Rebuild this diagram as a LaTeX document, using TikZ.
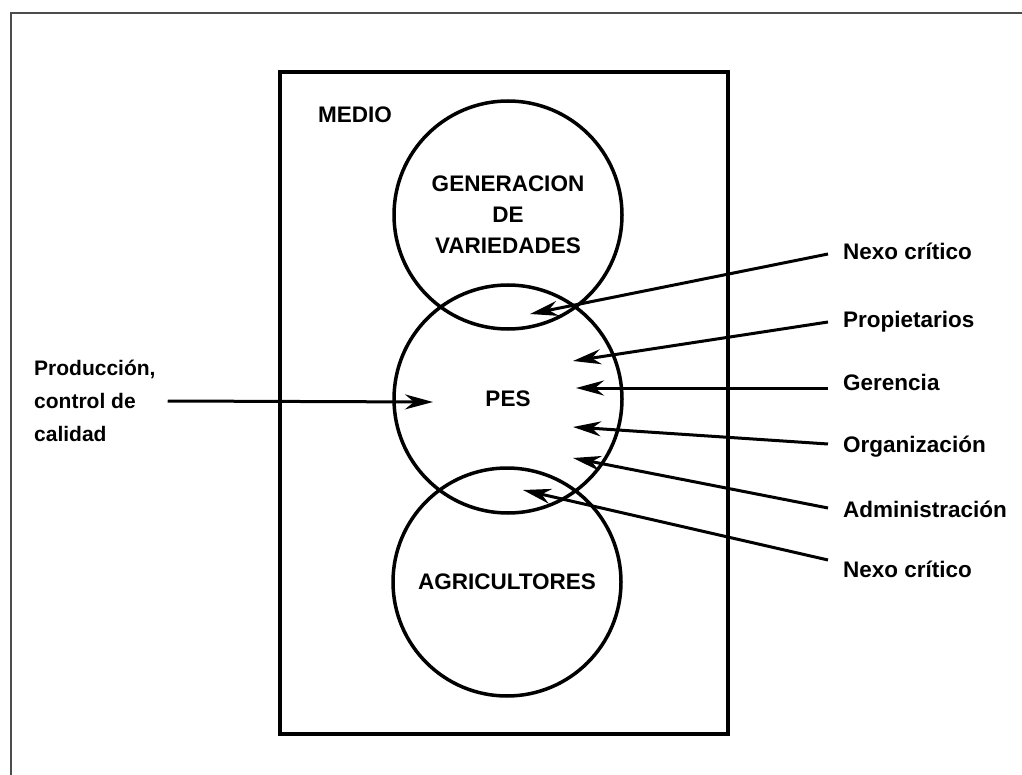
\documentclass[tikz,border=0pt]{standalone}
\usepackage{fontspec}
\setmainfont{Liberation Sans}
\usetikzlibrary{arrows.meta}
\begin{document}
\begin{tikzpicture}[x=1pt,y=-1pt,
  txt/.style={font=\fontsize{22.5}{31}\selectfont\bfseries, inner sep=0pt},
  ltxt/.style={font=\fontsize{21}{33}\selectfont\bfseries, inner sep=0pt, align=left},
  ring/.style={circle, draw, line width=3.5pt, minimum size=228pt, inner sep=0pt,
    align=center, font=\fontsize{22.5}{31}\selectfont\bfseries},
  box/.style={draw, line width=4.5pt, inner sep=0pt},
  arr/.style={line width=3pt, -{Stealth[length=28pt,width=15pt,inset=9pt]}},
  frame/.style={line width=1.5pt, black!70}
]
\useasboundingbox (0,0) rectangle (1022,775);
% outer frame
\draw[frame] (1022,13) -- (11,13) -- (11,775);
% environment box
\node[box, minimum width=448pt, minimum height=662pt] (medio) at (504,403) {};
\node[txt] (mediolab) at (355,115) {MEDIO};
% circles
\node[ring] (gen) at (508,215) {GENERACION\\DE\\VARIEDADES};
\node[ring] (pes) at (508,399) {PES};
\node[ring] (agr) at (507,582) {AGRICULTORES};
% arrow tips
\coordinate (tL) at (433,402);
\coordinate (t1) at (530,314);
\coordinate (t2) at (573,361);
\coordinate (t3) at (576,388);
\coordinate (t4) at (573,427);
\coordinate (t5) at (573,458);
\coordinate (t6) at (523,490);
% right labels
\node[txt, anchor=base west] (n1) at (843,259.5) {Nexo crítico};
\node[txt, anchor=base west] (n2) at (843,328) {Propietarios};
\node[txt, anchor=base west] (n3) at (843,390) {Gerencia};
\node[txt, anchor=base west] (n4) at (843,452) {Organización};
\node[txt, anchor=base west] (n5) at (843,517) {Administración};
\node[txt, anchor=base west] (n6) at (843,577.5) {Nexo crítico};
% left label
\node[ltxt, anchor=west] (lp) at (34,401) {Producción,\\control de\\calidad};
% connectors
\draw[arr] ([xshift=12pt]lp.east) -- (tL);
\draw[arr] ([shift={(-15,-5.5)}]n1.base west) -- (t1);
\draw[arr] ([shift={(-15,-6)}]n2.base west) -- (t2);
\draw[arr] ([shift={(-15,-2)}]n3.base west) -- (t3);
\draw[arr] ([shift={(-15,-8)}]n4.base west) -- (t4);
\draw[arr] ([shift={(-15,-9)}]n5.base west) -- (t5);
\draw[arr] ([shift={(-15,-17.5)}]n6.base west) -- (t6);
\end{tikzpicture}
\end{document}
